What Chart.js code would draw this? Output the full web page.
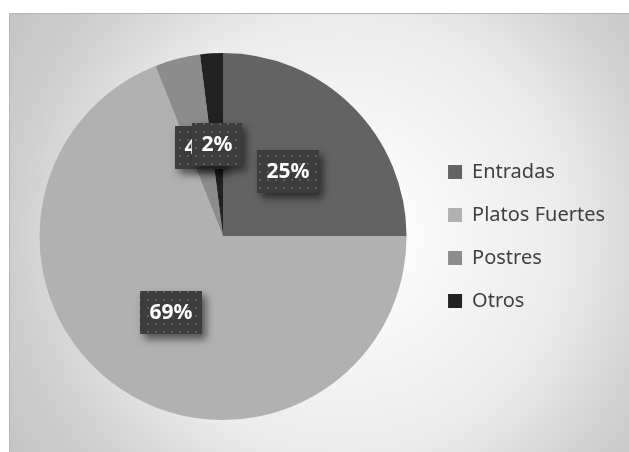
<!DOCTYPE html>
<html>
<head>
<meta charset="utf-8">
<script src="https://cdn.jsdelivr.net/npm/chart.js@4.4.0/dist/chart.umd.min.js"></script>
<style>
  html, body { margin: 0; padding: 0; background: #ffffff; overflow: hidden; }
  canvas { display: block; }
</style>
</head>
<body>
<canvas id="menuPie" width="629" height="452"></canvas>
<script>
// Menu composition by category (percent of items)
const categories = ['Entradas', 'Platos Fuertes', 'Postres', 'Otros'];
const shares = [25, 69, 4, 2];
const sliceColors = ['#636363', '#b1b1b1', '#8c8c8c', '#222222'];

// Dotted fill used behind the percentage labels
function makeDotPattern(ctx) {
  const tile = document.createElement('canvas');
  tile.width = 8; tile.height = 8;
  const t = tile.getContext('2d');
  t.fillStyle = '#3d3d3d';
  t.fillRect(0, 0, 8, 8);
  t.fillStyle = '#5c5c5c';
  t.fillRect(3, 3, 2, 2);
  return ctx.createPattern(tile, 'repeat');
}

// Panel background: soft radial gradient with a thin frame line
const panelBackground = {
  id: 'panelBackground',
  beforeDraw(chart) {
    const ctx = chart.ctx;
    const W = chart.width, H = chart.height;
    ctx.save();
    ctx.fillStyle = '#ffffff';
    ctx.fillRect(0, 0, W, H);
    const px = 9, py = 13;
    const g = ctx.createRadialGradient(345, 235, 0, 345, 235, 410);
    g.addColorStop(0, '#ffffff');
    g.addColorStop(0.2, '#f9f9f9');
    g.addColorStop(0.54, '#ebebeb');
    g.addColorStop(0.8, '#cfcfcf');
    g.addColorStop(1, '#c3c3c3');
    ctx.fillStyle = g;
    ctx.fillRect(px, py, W - px, H - py);
    ctx.fillStyle = '#b6b6b6';
    ctx.fillRect(px, py, W - px, 1);
    ctx.fillRect(px, py, 1, H - py);
    ctx.restore();
  }
};

// Percentage tags placed halfway along each slice's radius
const sliceTags = {
  id: 'sliceTags',
  afterDatasetsDraw(chart) {
    const ctx = chart.ctx;
    const meta = chart.getDatasetMeta(0);
    const values = chart.data.datasets[0].data;
    const total = values.reduce((a, b) => a + b, 0);
    const pattern = makeDotPattern(ctx);
    ctx.save();
    ctx.font = 'bold 21px "Noto Sans"';
    ctx.textAlign = 'center';
    ctx.textBaseline = 'middle';
    meta.data.forEach((arc, i) => {
      const p = arc.getProps(['x', 'y', 'startAngle', 'endAngle', 'outerRadius'], true);
      const mid = (p.startAngle + p.endAngle) / 2;
      const r = p.outerRadius * 0.5;
      const cx = p.x + Math.cos(mid) * r;
      const cy = p.y + Math.sin(mid) * r;
      const text = Math.round(values[i] / total * 100) + '%';
      const w = ctx.measureText(text).width + 19;
      const h = 43;
      const bx = Math.round(cx - w / 2), by = Math.round(cy - h / 2);
      ctx.save();
      ctx.shadowColor = 'rgba(0,0,0,0.55)';
      ctx.shadowBlur = 8;
      ctx.shadowOffsetX = 4;
      ctx.shadowOffsetY = 5;
      ctx.fillStyle = '#3d3d3d';
      ctx.fillRect(bx, by, w, h);
      ctx.restore();
      ctx.fillStyle = pattern;
      ctx.fillRect(bx, by, w, h);
      ctx.fillStyle = '#ffffff';
      ctx.fillText(text, bx + w / 2, by + h / 2 + 1);
    });
    ctx.restore();
  }
};

new Chart(document.getElementById('menuPie'), {
  type: 'pie',
  data: {
    labels: categories,
    datasets: [{
      data: shares,
      backgroundColor: sliceColors,
      borderWidth: 0,
      hoverOffset: 0
    }]
  },
  options: {
    responsive: false,
    animation: false,
    devicePixelRatio: 1,
    layout: { padding: { top: 53, bottom: 32, left: 21, right: 14 } },
    plugins: {
      tooltip: { enabled: false },
      legend: {
        position: 'right',
        align: 'center',
        labels: {
          boxWidth: 14,
          boxHeight: 14,
          padding: 23,
          color: '#404040',
          font: { family: '"Noto Sans"', size: 20 }
        }
      }
    }
  },
  plugins: [panelBackground, sliceTags]
});
</script>
</body>
</html>
